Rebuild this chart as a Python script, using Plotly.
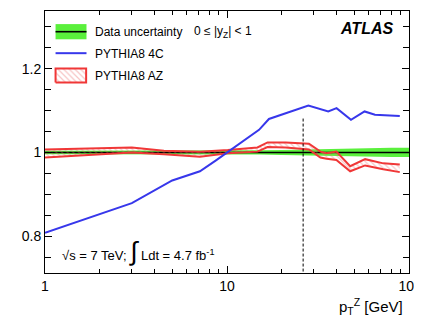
import plotly.graph_objects as go

# ---------------- data ----------------
# Data uncertainty band (relative to 1)
data_x = [1, 3, 5, 7, 10, 15, 20, 26, 30, 35, 40, 50, 60, 70, 80, 100]
data_err = [0.004, 0.004, 0.004, 0.0045, 0.005, 0.005, 0.006, 0.007, 0.008,
            0.009, 0.009, 0.010, 0.010, 0.011, 0.011, 0.011]

# PYTHIA8 4C ratio
p4c_x = [1, 3, 5, 7.1, 8.7, 10, 12.5, 15, 17, 24.4, 28, 36, 40, 48, 57, 65, 89]
p4c_y = [0.808, 0.879, 0.933, 0.955, 0.981, 1.0, 1.03, 1.054, 1.080, 1.104,
         1.112, 1.098, 1.106, 1.078, 1.098, 1.090, 1.087]

# PYTHIA8 AZ band (upper / lower)
paz_x = [1, 3, 4.5, 7.1, 10.1, 14.7, 16.7, 21, 28.2, 32.6, 35.3, 39.9, 47.5,
         57.4, 72.2, 89]
paz_up = [1.007, 1.012, 1.004, 1.002, 1.006, 1.012, 1.024, 1.024, 1.021, 1.002,
          0.998, 1.002, 0.967, 0.984, 0.974, 0.971]
paz_lo = [0.988, 1.000, 0.996, 0.990, 0.998, 1.002, 1.013, 1.012, 1.007, 0.988,
          0.985, 0.982, 0.955, 0.969, 0.960, 0.953]

# vertical dashed marker
vline_x = 26.2
vline_y = [1.081, 0.70]

x_tickvals = [1, 10, 100]
x_ticktext = ["1", "10", "10<sup>2</sup>"]
x_minor = [2, 3, 4, 5, 6, 7, 8, 9, 20, 30, 40, 50, 60, 70, 80, 90]
y_tickvals = [0.8, 1.0, 1.2]
y_ticktext = ["0.8", "1", "1.2"]

GREEN = "rgb(90,240,60)"
BLUE = "rgb(55,55,235)"
RED = "rgb(240,55,55)"
FONT = "Liberation Sans, Arial, Helvetica, sans-serif"

fig = go.Figure()

# green data uncertainty band
fig.add_trace(go.Scatter(x=data_x, y=[1 - e for e in data_err], mode="lines",
                         line=dict(width=0, color=GREEN), showlegend=False,
                         hoverinfo="skip"))
fig.add_trace(go.Scatter(x=data_x, y=[1 + e for e in data_err], mode="lines",
                         line=dict(width=0, color=GREEN), fill="tonexty",
                         fillcolor=GREEN, showlegend=False, hoverinfo="skip"))
# black line at 1
fig.add_trace(go.Scatter(x=data_x, y=[1.0] * len(data_x), mode="lines",
                         line=dict(width=1.6, color="black"), showlegend=False,
                         hoverinfo="skip"))
# red AZ band
fig.add_trace(go.Scatter(x=paz_x, y=paz_up, mode="lines",
                         line=dict(width=2, color=RED), showlegend=False,
                         hoverinfo="skip"))
fig.add_trace(go.Scatter(x=paz_x, y=paz_lo, mode="lines",
                         line=dict(width=2, color=RED), fill="tonexty",
                         fillcolor="rgba(255,255,255,0)",
                         fillpattern=dict(shape="\\", fgcolor="rgba(235,110,110,0.8)",
                                          bgcolor="rgba(255,255,255,0)", size=4,
                                          solidity=0.3),
                         showlegend=False, hoverinfo="skip"))
# blue 4C
fig.add_trace(go.Scatter(x=p4c_x, y=p4c_y, mode="lines",
                         line=dict(width=2, color=BLUE), showlegend=False,
                         hoverinfo="skip"))
# dashed vertical line
fig.add_trace(go.Scatter(x=[vline_x, vline_x], y=vline_y, mode="lines",
                         line=dict(width=1, color="black", dash="3px,2px"),
                         showlegend=False, hoverinfo="skip"))

# ---------- manual legend on overlay axes (0..1 box coordinates) ----------
def box(x0, x1, y0, y1):
    return [x0, x1, x1, x0, x0], [y0, y0, y1, y1, y0]

bx, by = box(0.029, 0.114, 0.892, 0.950)
fig.add_trace(go.Scatter(x=bx, y=by, xaxis="x2", yaxis="y2", mode="lines",
                         fill="toself", fillcolor=GREEN, line=dict(width=0),
                         showlegend=False, hoverinfo="skip"))
fig.add_trace(go.Scatter(x=[0.029, 0.114], y=[0.921, 0.921], xaxis="x2", yaxis="y2",
                         mode="lines", line=dict(width=1.6, color="black"),
                         showlegend=False, hoverinfo="skip"))
fig.add_trace(go.Scatter(x=[0.029, 0.114], y=[0.839, 0.839], xaxis="x2", yaxis="y2",
                         mode="lines", line=dict(width=2, color=BLUE),
                         showlegend=False, hoverinfo="skip"))
rx, ry = box(0.029, 0.113, 0.727, 0.781)
fig.add_trace(go.Scatter(x=rx, y=ry, xaxis="x2", yaxis="y2", mode="lines",
                         fill="toself", fillcolor="rgba(255,255,255,0)",
                         fillpattern=dict(shape="\\", fgcolor="rgba(235,110,110,0.8)",
                                          bgcolor="rgba(255,255,255,0)", size=4,
                                          solidity=0.3),
                         line=dict(width=2, color=RED),
                         showlegend=False, hoverinfo="skip"))

annotations = [
    dict(x=0.133, y=0.918, text="Data uncertainty", xanchor="left"),
    dict(x=0.405, y=0.918, text="0 ≤ |y<sub>Z</sub>| < 1", xanchor="left"),
    dict(x=0.133, y=0.837, text="PYTHIA8 4C", xanchor="left"),
    dict(x=0.133, y=0.753, text="PYTHIA8 AZ", xanchor="left"),
]
anns = []
for a in annotations:
    a.update(xref="paper", yref="paper", yanchor="middle", showarrow=False,
             font=dict(size=12, family=FONT, color="black"))
    anns.append(a)
anns.append(dict(xref="paper", yref="paper", x=0.883, y=0.933, xanchor="center",
                 yanchor="middle", showarrow=False,
                 text="<b><i>ATLAS</i></b>",
                 font=dict(size=16, family=FONT, color="black")))
anns.append(dict(xref="paper", yref="paper", x=0.042, y=0.085, xanchor="left",
                 yanchor="middle", showarrow=False,
                 text="√s = 7 TeV; <span style='font-size:26px'>∫</span> Ldt = 4.7 fb<sup>-1</sup>",
                 font=dict(size=13, family=FONT, color="black")))
anns.append(dict(xref="paper", yref="paper", x=0.988, y=-0.128, xanchor="right",
                 yanchor="middle", showarrow=False,
                 text="p<sub>T</sub><sup>Z</sup> [GeV]",
                 font=dict(size=15, family=FONT, color="black")))

# page body adds an 8 px offset, so the figure is sized/placed to compensate
fig.update_layout(
    width=414, height=312,
    margin=dict(l=37, r=9, t=2, b=47),
    paper_bgcolor="white", plot_bgcolor="white",
    showlegend=False,
    font=dict(family=FONT, size=14, color="black"),
    xaxis=dict(type="log", range=[0, 2], showgrid=False, zeroline=False,
               showline=True, linecolor="black", linewidth=1, mirror="allticks",
               ticks="inside", ticklen=7, tickcolor="black",
               tickvals=x_tickvals, ticktext=x_ticktext,
               ticklabeloverflow="allow",
               tickfont=dict(size=14, family=FONT),
               minor=dict(tickvals=x_minor, ticks="inside", ticklen=4,
                          tickcolor="black", showgrid=False)),
    yaxis=dict(range=[0.712, 1.338], showgrid=False, zeroline=False,
               showline=True, linecolor="black", linewidth=1, mirror="allticks",
               ticks="inside", ticklen=7, tickcolor="black",
               tickvals=y_tickvals, ticktext=y_ticktext,
               tickfont=dict(size=14, family=FONT),
               minor=dict(dtick=0.05, tick0=0, ticks="inside", ticklen=6,
                          tickcolor="black", showgrid=False)),
    xaxis2=dict(overlaying="x", anchor="y2", range=[0, 1], visible=False),
    yaxis2=dict(overlaying="y", anchor="x2", range=[0, 1], visible=False),
    annotations=anns,
)

fig.write_html("out.html")
